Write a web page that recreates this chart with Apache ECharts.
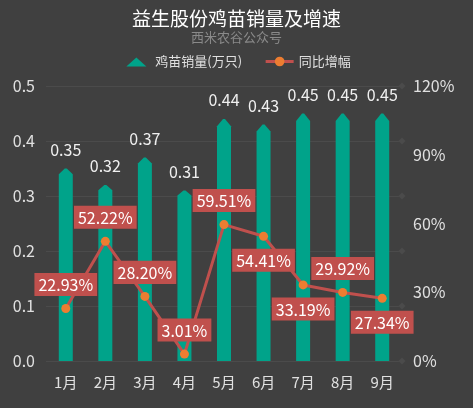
<!DOCTYPE html>
<html><head><meta charset="utf-8">
<script src="https://cdn.jsdelivr.net/npm/echarts@6/dist/echarts.min.js"></script>
<style>html,body{margin:0;padding:0;background:#404040;}#c{width:473px;height:408px;}</style>
</head><body><div id="c"></div>
<script>
var months = ['1月','2月','3月','4月','5月','6月','7月','8月','9月'];
var sales = [0.35, 0.32, 0.37, 0.31, 0.44, 0.43, 0.45, 0.45, 0.45];
var growth = [22.93, 52.22, 28.20, 3.01, 59.51, 54.41, 33.19, 29.92, 27.34];
var leftTicks = [0, 0.1, 0.2, 0.3, 0.4, 0.5];

var FONT = 'Noto Sans CJK SC';
var labelSide = ['top','top','top','top','top','bottom','bottom','top','bottom'];
var chart = echarts.init(document.getElementById('c'));
chart.setOption({
  backgroundColor: '#404040',
  textStyle: {fontFamily: FONT},
  title: {
    text: '益生股份鸡苗销量及增速', subtext: '西米农谷公众号', left: 'center', top: 4, itemGap: 3,
    textStyle: {color: '#ffffff', fontSize: 19, fontWeight: 'normal', fontFamily: FONT},
    subtextStyle: {color: '#8a8a8a', fontSize: 13, fontFamily: FONT}
  },
  legend: {
    top: 50, left: 'center', itemGap: 22, itemWidth: 28, itemHeight: 12,
    textStyle: {color: '#e0e0e0', fontSize: 13, fontFamily: FONT},
    data: [
      {name: '鸡苗销量(万只)', icon: 'path://M0,0 M28,12 M4,11 L14,2 L24,11 Z'},
      {name: '同比增幅', lineStyle: {width: 3, color: '#c0504d'}}
    ]
  },
  grid: {left: 46, right: 71, top: 86, bottom: 47},
  xAxis: {
    type: 'category', data: months,
    axisLine: {show: false}, axisTick: {show: false},
    axisLabel: {color: '#e0e0e0', fontSize: 15, margin: 14}
  },
  yAxis: [{
    type: 'value', min: 0, max: 0.5, interval: 0.1,
    axisLine: {show: false}, axisTick: {show: false},
    axisLabel: {color: '#e0e0e0', fontSize: 16, margin: 11, formatter: function (v) { return v.toFixed(1); }},
    splitLine: {show: false}
  }, {
    type: 'value', min: 0, max: 120, interval: 30,
    axisLine: {show: false}, axisTick: {show: false},
    axisLabel: {color: '#e0e0e0', fontSize: 16, margin: 11, formatter: '{value}%'},
    splitLine: {show: false}
  }],
  series: [{
    name: '鸡苗销量(万只)', type: 'pictorialBar', yAxisIndex: 0,
    symbol: 'path://M0,6 L6,0 L8,0 L14,6 L14,200 L0,200 Z',
    symbolSize: [14, '100%'], symbolPosition: 'start', symbolClip: false,
    itemStyle: {color: '#00a38a'},
    label: {show: true, position: 'top', distance: 11, color: '#f0f0f0', fontSize: 16, fontFamily: FONT},
    data: sales,
    markLine: {
      silent: true, symbol: ['none', 'diamond'], symbolSize: 7,
      label: {show: false},
      lineStyle: {color: '#4b4b4b', type: 'solid', width: 1},
      itemStyle: {color: '#4b4b4b'},
      data: leftTicks.map(function (t) { return {yAxis: t}; }),
      z: 0
    },
    z: 3
  }, {
    name: '同比增幅', type: 'line', yAxisIndex: 1,
    symbol: 'circle', symbolSize: 9,
    lineStyle: {color: '#c0504d', width: 3},
    itemStyle: {color: '#ed7d31'},
    z: 5,
    label: {
      show: true, distance: 8, color: '#ffffff', fontSize: 16, fontFamily: FONT,
      backgroundColor: '#c0504d', padding: [4, 4, 3, 4],
      formatter: function (p) { return p.value.toFixed(2) + '%'; }
    },
    data: growth.map(function (v, i) { return {value: v, label: {position: labelSide[i]}}; })
  }]
});
</script></body></html>
